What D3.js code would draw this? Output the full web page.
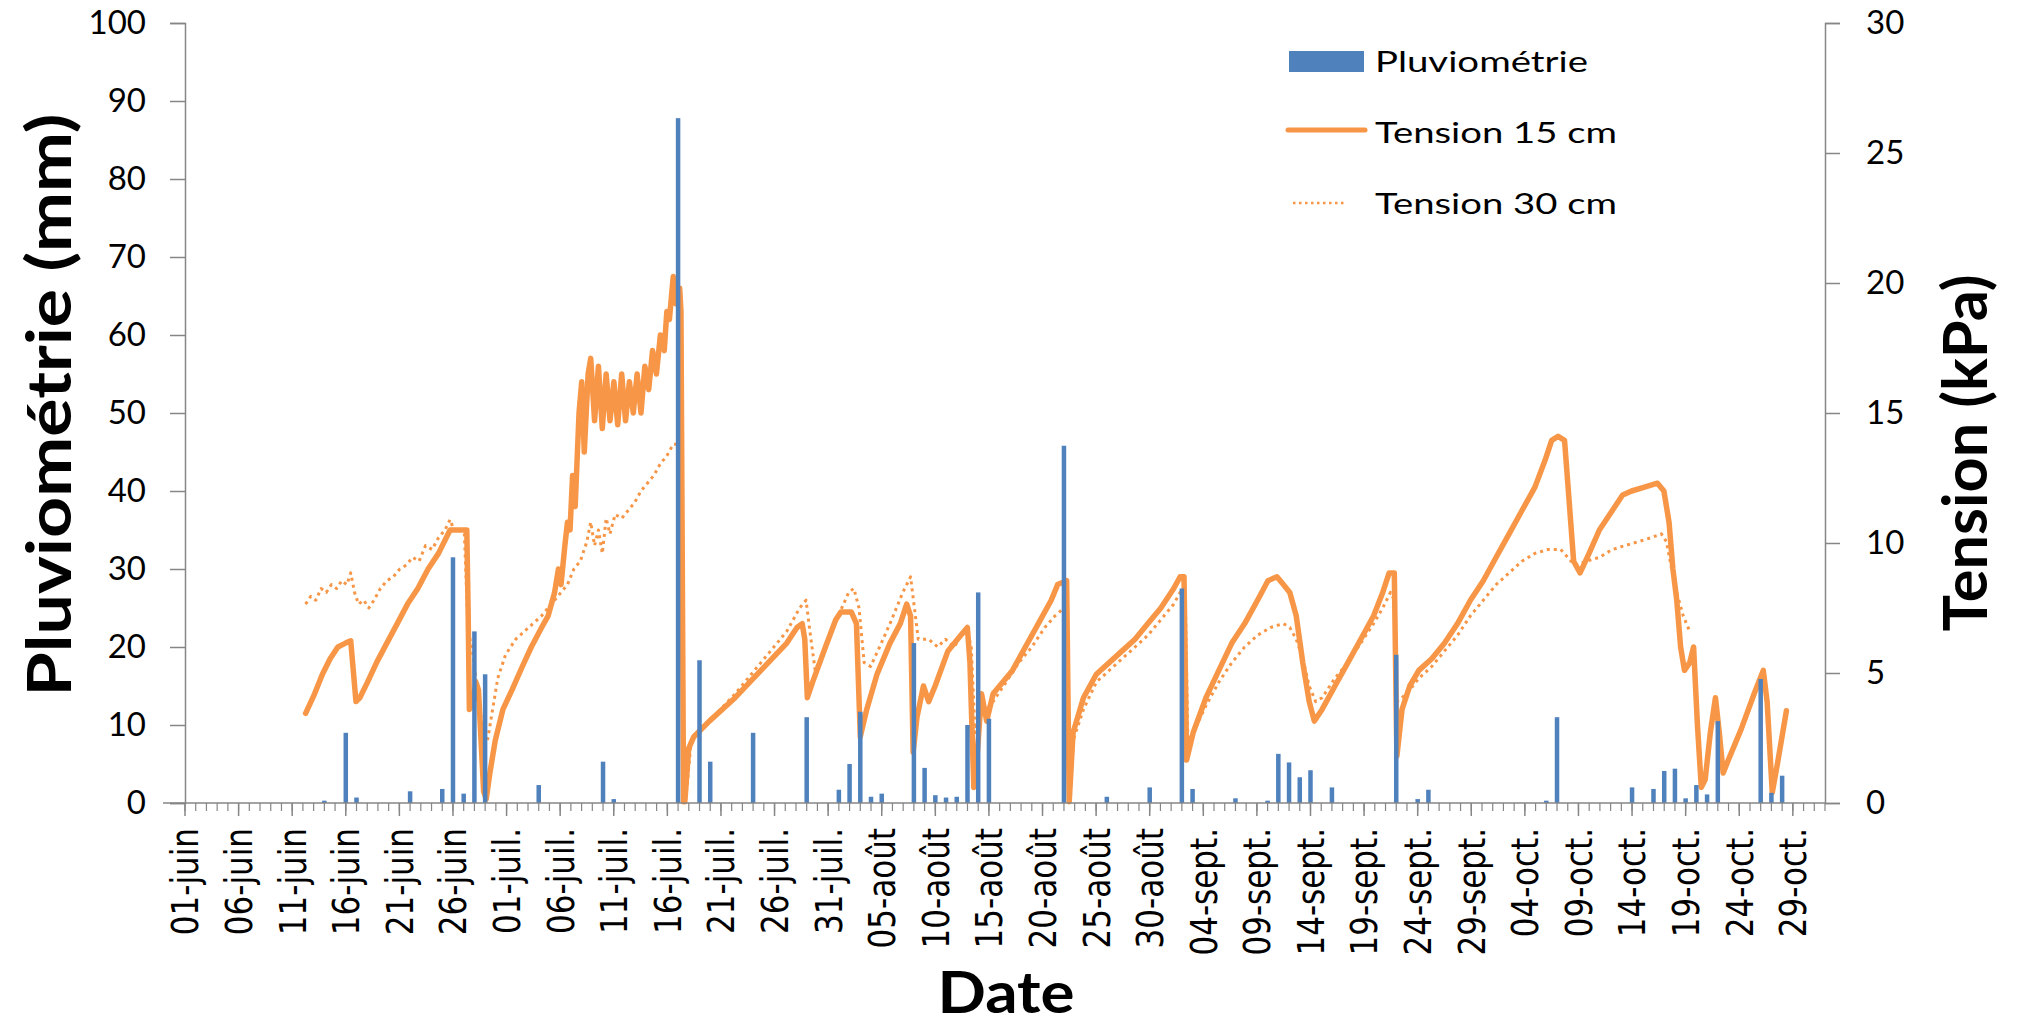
<!DOCTYPE html>
<html>
<head>
<meta charset="utf-8">
<script src="https://cdn.jsdelivr.net/npm/d3@7"></script>
<style>
  html, body { margin: 0; padding: 0; background: #fff; }
  svg { display: block; font-family: Lato, "Open Sans", sans-serif; }
</style>
</head>
<body>
<svg id="chart" width="2022" height="1026"></svg>
<script>
// ---- Daily rainfall (mm) ----
const rainDates = ["06-14","06-16","06-17","06-22","06-25","06-26","06-27","06-28","06-29",
  "07-04","07-10","07-11","07-17","07-19","07-20","07-24","07-29",
  "08-01","08-02","08-03","08-04","08-05","08-08","08-09","08-10","08-11","08-12","08-13","08-14","08-15",
  "08-22","08-26","08-30","09-02","09-03","09-07","09-10","09-11","09-12","09-13","09-14","09-16",
  "09-22","09-24","09-25","10-06","10-07","10-14","10-16","10-17","10-18","10-19","10-20","10-21",
  "10-22","10-26","10-27","10-28"];
const rainValues = [0.3,9,0.7,1.5,1.8,31.5,1.2,22,16.5,
  2.3,5.3,0.5,87.8,18.3,5.3,9,11,
  1.7,5,11.7,0.8,1.2,20.5,4.5,1,0.7,0.8,10,27,10.8,
  45.8,0.8,2,27.5,1.8,0.6,0.3,6.3,5.2,3.3,4.2,2,
  19,0.5,1.7,0.3,11,2.0,1.8,4.1,4.4,0.6,2.3,1.1,
  10.5,15.9,1.3,3.5];

// ---- Soil water tension at 15 cm (kPa): [days elapsed since 1 June, kPa] ----
const tension15 = [
  [11.25,3.45],[12.09,4.2],[12.82,4.95],[13.54,5.55],[14.26,6.0],[14.98,6.15],[15.46,6.24],[15.70,5.1],[15.95,3.9],
  [16.31,4.05],[17.03,4.65],[17.87,5.4],[18.83,6.15],[19.80,6.9],[20.76,7.65],[21.72,8.25],[22.68,9.0],[23.65,9.6],
  [24.37,10.2],[24.73,10.5],[26.29,10.5],[26.41,7.5],[26.53,3.6],[26.90,3.9],[27.14,4.65],[27.38,4.35],[27.62,2.4],
  [27.86,0.45],[28.10,0.15],[28.46,1.2],[28.94,2.4],[29.66,3.6],[30.51,4.35],[31.47,5.25],[32.31,6.0],[33.27,6.75],
  [33.88,7.2],[34.48,8.1],[34.84,9.0],[35.08,8.4],[35.44,9.9],[35.68,10.8],[35.92,10.5],[36.16,12.6],[36.40,11.4],
  [36.76,15.0],[37.01,16.2],[37.25,13.5],[37.61,16.5],[37.85,17.1],[38.21,14.7],[38.57,16.8],[38.93,14.4],[39.29,16.5],
  [39.65,14.7],[40.01,16.2],[40.37,14.55],[40.74,16.5],[41.10,14.7],[41.46,16.2],[41.82,15.0],[42.18,16.5],[42.54,15.0],
  [42.90,16.8],[43.26,15.9],[43.62,17.4],[43.98,16.5],[44.35,18.0],[44.71,17.4],[44.95,18.9],[45.19,18.6],[45.55,20.25],
  [45.79,19.2],[46.15,19.8],[46.27,18.9],[46.51,0.05],[46.63,0.05],[46.99,2.1],[47.47,2.55],[48.92,3.15],[51.32,4.05],
  [53.73,5.1],[56.14,6.15],[57.10,6.75],[57.58,6.9],[57.82,6.3],[58.06,4.05],[58.55,4.65],[59.75,6.0],[60.71,7.05],
  [61.19,7.35],[62.16,7.35],[62.64,6.9],[63.00,2.55],[63.60,3.6],[64.56,4.95],[65.77,6.15],[66.73,6.9],[67.33,7.65],
  [67.69,7.2],[67.93,1.95],[68.29,3.3],[68.89,4.5],[69.38,3.9],[69.98,4.5],[71.18,5.85],[72.38,6.45],[72.99,6.75],
  [73.23,5.4],[73.59,0.6],[73.95,2.1],[74.31,4.2],[74.79,3.15],[75.39,4.2],[77.20,5.1],[78.40,6.0],[79.61,6.9],
  [80.81,7.8],[81.41,8.4],[82.25,8.55],[82.49,0.05],[82.85,2.7],[83.82,4.05],[85.02,4.95],[86.22,5.4],[87.43,5.85],
  [88.63,6.3],[89.83,6.9],[91.04,7.5],[92.24,8.25],[92.84,8.7],[93.20,8.7],[93.44,1.65],[94.05,2.7],[95.25,4.05],
  [96.45,5.1],[97.66,6.15],[98.86,6.9],[100.06,7.8],[101.03,8.55],[101.87,8.7],[102.47,8.4],[103.07,8.1],[103.67,7.2],
  [104.28,5.4],[104.88,3.9],[105.36,3.15],[106.08,3.6],[107.28,4.5],[108.49,5.4],[109.69,6.3],[110.89,7.2],[111.74,8.1],
  [112.34,8.85],[112.82,8.85],[113.06,1.8],[113.54,3.6],[114.26,4.5],[115.11,5.1],[116.31,5.55],[117.51,6.15],[118.72,6.9],
  [119.92,7.8],[121.12,8.55],[122.32,9.45],[123.53,10.35],[124.73,11.25],[125.94,12.15],[126.90,13.2],[127.50,13.95],
  [128.10,14.1],[128.70,13.95],[129.06,12.0],[129.55,9.3],[130.15,8.85],[130.99,9.6],[131.95,10.5],[133.16,11.25],
  [134.12,11.85],[134.96,12.0],[136.16,12.15],[137.37,12.3],[137.97,12.0],[138.45,10.8],[138.81,9.0],[139.17,7.8],
  [139.53,6.0],[139.89,5.1],[140.38,5.4],[140.74,6.0],[141.10,3.0],[141.46,0.6],[141.82,0.9],[142.30,2.7],[142.78,4.05],
  [143.14,2.7],[143.50,1.15],[143.98,1.65],[145.19,2.85],[146.39,4.2],[147.24,5.1],[147.60,3.9],[148.08,0.4],
  [148.56,1.5],[149.40,3.55]
];

// ---- Soil water tension at 30 cm (kPa): [days elapsed since 1 June, kPa] ----
const tension30 = [
  [11.25,7.65],[11.73,7.95],[12.21,7.8],[12.70,8.25],[13.18,8.1],[13.66,8.4],[14.14,8.25],[14.62,8.55],[15.10,8.4],
  [15.46,8.85],[15.82,8.1],[16.19,7.65],[16.67,7.8],[17.15,7.5],[17.63,7.8],[18.23,8.25],[18.83,8.55],[19.44,8.7],
  [20.04,9.0],[20.64,9.15],[21.24,9.45],[21.84,9.3],[22.44,9.9],[23.05,9.75],[23.65,10.2],[24.25,10.5],[24.73,10.9],
  [25.09,10.5],[26.05,10.5],[26.41,6.6],[26.77,6.0],[27.14,4.8],[27.50,3.6],[27.86,2.7],[28.22,2.4],[28.70,3.6],
  [29.18,4.8],[29.90,5.7],[30.86,6.3],[32.06,6.75],[33.27,7.2],[34.48,7.8],[35.68,8.4],[36.28,9.0],[36.88,9.3],
  [37.49,10.05],[37.85,10.8],[38.21,9.9],[38.57,10.5],[38.93,9.6],[39.29,10.95],[39.65,10.35],[40.13,11.1],[40.74,10.95],
  [41.34,11.25],[41.94,11.55],[42.54,12.0],[43.14,12.3],[43.74,12.6],[44.35,13.05],[44.95,13.35],[45.55,13.8],[46.15,13.8],
  [46.51,0.1],[46.75,0.3],[47.23,2.4],[48.92,3.15],[51.32,4.2],[53.73,5.4],[56.14,6.6],[57.34,7.5],[57.94,7.8],
  [58.30,6.6],[58.79,5.1],[59.75,6.0],[60.95,7.2],[61.92,8.1],[62.40,8.25],[62.88,7.5],[63.36,5.4],[63.96,5.25],
  [64.80,6.0],[65.77,6.9],[66.97,8.1],[67.69,8.7],[68.05,7.5],[68.41,6.3],[69.38,6.3],[70.22,6.0],[70.94,6.3],
  [71.78,6.0],[72.38,6.45],[72.99,6.6],[73.35,6.0],[73.71,2.7],[74.19,3.6],[74.79,3.6],[75.39,3.9],[76.60,4.65],
  [77.80,5.4],[79.00,6.0],[80.21,6.75],[81.17,7.2],[82.01,7.5],[82.49,0.15],[82.85,2.4],[83.82,3.6],[85.02,4.65],
  [86.22,5.1],[87.43,5.55],[88.63,6.0],[89.83,6.45],[91.04,7.05],[92.24,7.65],[92.84,8.1],[93.32,7.8],[93.56,2.4],
  [94.05,2.7],[95.25,3.75],[96.45,4.65],[97.66,5.4],[98.86,6.0],[100.06,6.45],[101.26,6.75],[102.47,6.9],[103.07,6.75],
  [103.67,6.3],[104.28,5.55],[104.88,4.5],[105.48,3.9],[106.08,4.05],[107.28,4.8],[108.49,5.4],[109.69,6.15],[110.89,6.9],
  [111.74,7.5],[112.46,8.1],[112.82,7.8],[113.06,3.9],[113.54,4.05],[114.26,4.35],[115.11,4.8],[116.31,5.25],[117.51,5.85],
  [118.72,6.45],[119.92,7.2],[121.12,7.8],[122.32,8.4],[123.53,8.85],[124.73,9.3],[125.94,9.6],[127.14,9.75],[128.34,9.75],
  [129.31,9.3],[129.79,9.15],[130.75,9.3],[131.95,9.45],[133.16,9.75],[134.36,9.9],[135.56,10.05],[136.76,10.2],
  [137.73,10.35],[138.21,10.05],[138.69,9.0],[139.17,8.1],[139.77,7.2],[140.38,6.6]
];

// ---- Axis ticks ----
const leftTicks = [0,10,20,30,40,50,60,70,80,90,100];
const rightTicks = [0,5,10,15,20,25,30];
const monthAbbr = {5: "juin", 6: "juil.", 7: "août", 8: "sept.", 9: "oct."};
const seriesNames = ["Pluviométrie", "Tension 15 cm", "Tension 30 cm"];

// ---- Layout ----
const svg = d3.select("#chart");
const plot = {left: 185, right: 1825, top: 23, bottom: 803};
const blue = "#4F81BD", orange = "#F79646", axisGrey = "#868686";

const parseDay = d3.timeParse("%m-%d");
const start = parseDay("06-01"), end = parseDay("11-01");
const atDay = d => new Date(start.getTime() + d * 864e5);

const x = d3.scaleTime().domain([start, end]).range([plot.left, plot.right]);
const yRain = d3.scaleLinear().domain([0, 100]).range([plot.bottom, plot.top]);
const yTen = d3.scaleLinear().domain([0, 30]).range([plot.bottom, plot.top]);

// Tension lines (drawn under the rain columns)
const line = d3.line().x(d => x(atDay(d[0]))).y(d => yTen(d[1]));

svg.append("path").datum(tension30)
  .attr("d", line).attr("fill", "none")
  .attr("stroke", orange).attr("stroke-width", 3)
  .attr("stroke-dasharray", "3,4").attr("stroke-linejoin", "round");
svg.append("path").datum(tension15)
  .attr("d", line).attr("fill", "none")
  .attr("stroke", orange).attr("stroke-width", 5.5)
  .attr("stroke-linejoin", "round").attr("stroke-linecap", "round");

// Rain columns
const barW = 4.5;
svg.append("g").selectAll("rect").data(rainDates.map((d, i) => [parseDay(d), rainValues[i]]))
  .join("rect")
  .attr("x", d => x(d[0]) - barW / 2)
  .attr("width", barW)
  .attr("y", d => yRain(d[1]))
  .attr("height", d => yRain(0) - yRain(d[1]))
  .attr("fill", blue);

// Left axis
const leftAxis = svg.append("g").attr("transform", `translate(${plot.left},0)`)
  .call(d3.axisLeft(yRain).tickValues(leftTicks).tickSize(15).tickPadding(24).tickFormat(d3.format("d")));
// Right axis
const rightAxis = svg.append("g").attr("transform", `translate(${plot.right},0)`)
  .call(d3.axisRight(yTen).tickValues(rightTicks).tickSize(15).tickPadding(26).tickFormat(d3.format("d")));
[leftAxis, rightAxis].forEach(g => {
  g.select(".domain").attr("stroke", axisGrey).attr("stroke-width", 1.5);
  g.selectAll(".tick line").attr("stroke", axisGrey).attr("stroke-width", 1.5);
  g.selectAll(".tick text").attr("font-family", "Lato, sans-serif").attr("font-size", 33).attr("fill", "#000");
});

// Bottom axis: daily minor ticks, labels every five days
const days = d3.timeDay.range(start, d3.timeDay.offset(end, 1));
const labelDays = d3.range(0, 151, 5).map(k => d3.timeDay.offset(start, k));
const fmt = d => d3.timeFormat("%d")(d) + "-" + monthAbbr[d.getMonth()];

const xAxis = svg.append("g").attr("transform", `translate(0,${plot.bottom})`);
xAxis.append("line").attr("x1", 163).attr("x2", plot.right)
  .attr("stroke", axisGrey).attr("stroke-width", 1.5);
xAxis.selectAll("line.minor").data(days).join("line").attr("class", "minor")
  .attr("x1", d => x(d)).attr("x2", d => x(d)).attr("y1", 0).attr("y2", 8)
  .attr("stroke", axisGrey).attr("stroke-width", 1.2);
xAxis.selectAll("line.major").data(labelDays).join("line").attr("class", "major")
  .attr("x1", d => x(d)).attr("x2", d => x(d)).attr("y1", 0).attr("y2", 13)
  .attr("stroke", axisGrey).attr("stroke-width", 1.5);
xAxis.selectAll("text").data(labelDays).join("text")
  .attr("transform", d => `translate(${x(d)},25) scale(1.2,1) rotate(-90)`)
  .attr("text-anchor", "end").attr("dy", "0.36em")
  .attr("font-family", "'DejaVu Sans', sans-serif").attr("font-size", 31).attr("fill", "#000")
  .text(fmt);

// Axis titles
svg.append("text").attr("transform", "translate(71,405) rotate(-90)")
  .attr("text-anchor", "middle").attr("font-weight", 700).attr("font-size", 62)
  .attr("textLength", 583).attr("lengthAdjust", "spacingAndGlyphs")
  .text("Pluviométrie (mm)");
svg.append("text").attr("transform", "translate(1987,453) rotate(-90)")
  .attr("text-anchor", "middle").attr("font-weight", 700).attr("font-size", 62)
  .attr("textLength", 357).attr("lengthAdjust", "spacingAndGlyphs")
  .text("Tension (kPa)");
svg.append("text").attr("x", 1006).attr("y", 1013)
  .attr("text-anchor", "middle").attr("font-weight", 700).attr("font-size", 58)
  .attr("textLength", 137).attr("lengthAdjust", "spacingAndGlyphs")
  .text("Date");

// Legend
const legend = svg.append("g");
legend.append("rect").attr("x", 1289).attr("y", 51).attr("width", 75).attr("height", 21).attr("fill", blue);
legend.append("line").attr("x1", 1288).attr("x2", 1365).attr("y1", 130).attr("y2", 130)
  .attr("stroke", orange).attr("stroke-width", 5).attr("stroke-linecap", "round");
legend.append("line").attr("x1", 1293).attr("x2", 1346).attr("y1", 203).attr("y2", 203)
  .attr("stroke", orange).attr("stroke-width", 2.5).attr("stroke-dasharray", "2.5,3.5");
const legendY = [72, 143, 214];
const legendW = [213, 242, 242];
seriesNames.forEach((name, i) => {
  legend.append("text").attr("x", 1375).attr("y", legendY[i])
    .attr("font-size", 29).attr("fill", "#000")
    .attr("textLength", legendW[i]).attr("lengthAdjust", "spacingAndGlyphs")
    .text(name);
});
</script>
</body>
</html>
